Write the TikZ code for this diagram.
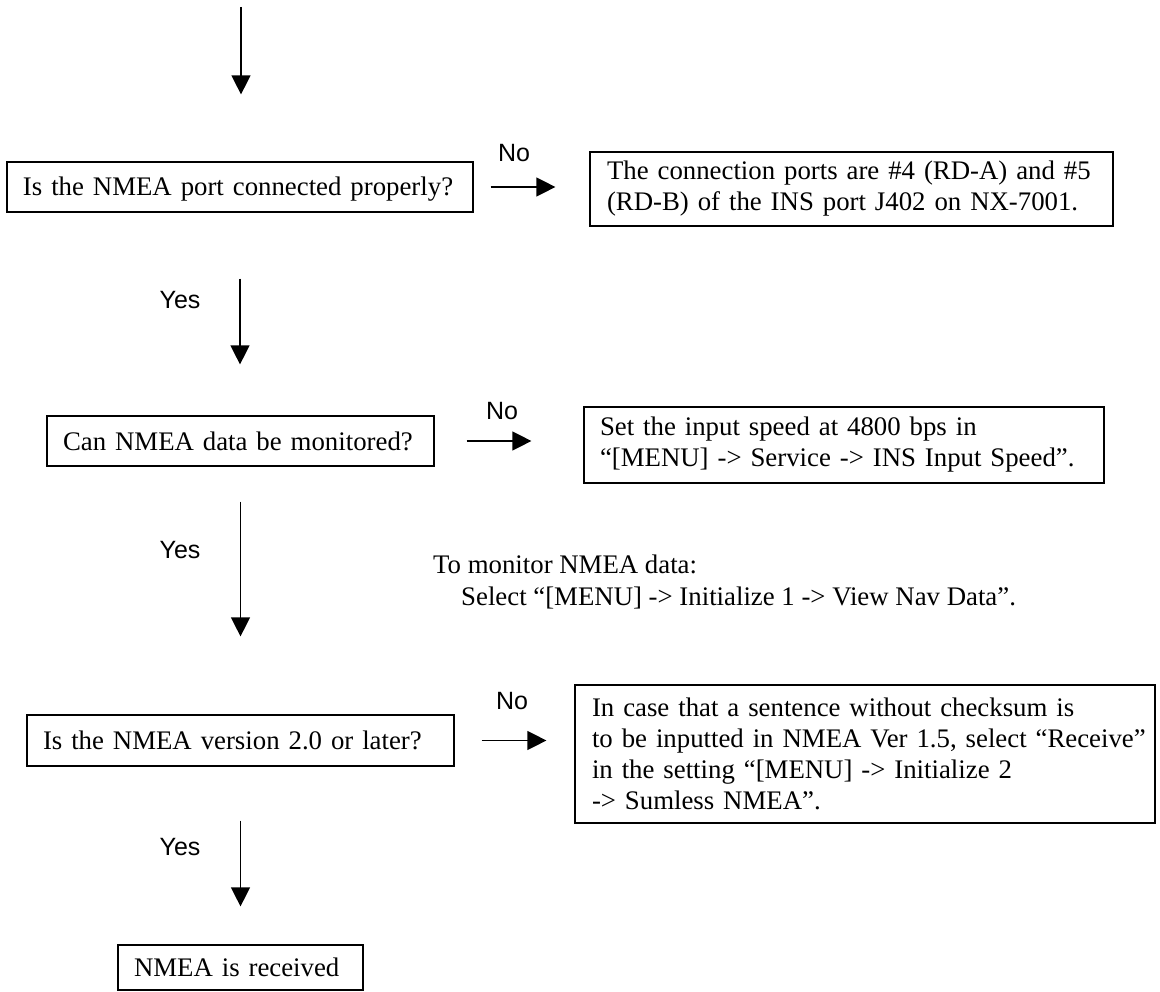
\documentclass[tikz,border=0pt]{standalone}
\usepackage{fontspec}
\setmainfont{Liberation Serif}
\newfontfamily\lblfont{Liberation Sans}
\usetikzlibrary{arrows.meta}
\begin{document}
\begin{tikzpicture}[x=1pt,y=-1pt,
  box/.style={draw, line width=1.2pt, inner xsep=16pt, inner ysep=0pt, align=left,
    font=\fontsize{26.8}{31}\selectfont},
  onebox/.style={box, text height=24pt, text depth=6pt, minimum height=50pt},
  arr/.style={line width=1.3pt, -{Triangle[length=19pt,width=19pt]}},
  lbl/.style={font=\lblfont\fontsize{25}{28}\selectfont, inner sep=0pt},
  note/.style={font=\fontsize{26.8}{32}\selectfont, inner sep=0pt, align=left}]
\useasboundingbox (0,0) rectangle (1160,992);

% decision and message boxes
\node[onebox, text width=434pt] (b1) at (240,187) {\mbox{Is the NMEA port connected properly?}};
\node[box, inner xsep=17pt, text width=489pt, minimum height=74pt] (b2) at (851.5,189)
  {\mbox{The connection ports are \#4 (RD-A) and \#5}\\\mbox{(RD-B) of the INS port J402 on NX-7001.}};
\node[onebox, text width=355pt] (b3) at (240.5,441) {\mbox{Can NMEA data be monitored?}};
\node[box, text width=488pt, minimum height=76pt] (b4) at (844,445)
  {\mbox{Set the input speed at 4800 bps in}\\\mbox{“[MENU] -> Service -> INS Input Speed”.}};
\node[onebox, text width=395pt, minimum height=51pt] (b5) at (240.5,740.5) {\mbox{Is the NMEA version 2.0 or later?}};
\node[box, inner xsep=17pt, text width=546pt, minimum height=138pt] (b6) at (865,754)
  {\mbox{In case that a sentence without checksum is}\\\mbox{to be inputted in NMEA Ver 1.5, select “Receive”}\\\mbox{in the setting “[MENU] -> Initialize 2}\\\mbox{-> Sumless NMEA”.}};
\node[onebox, text width=213pt, minimum height=45pt] (b7) at (240.5,967.5) {\mbox{NMEA is received}};

% note (base anchor sits on the last line)
\node[note, anchor=base west] (mon) at (433,605)
  {To monitor NMEA data:\\\hspace*{28pt}Select “[MENU] -> Initialize 1 -> View Nav Data”.};

% labels
\node[lbl] (no1) at (514,153) {No};
\node[lbl] (no2) at (502,411) {No};
\node[lbl] (no3) at (512,701) {No};
\node[lbl] (yes1) at (180,300) {Yes};
\node[lbl] (yes2) at (180,550) {Yes};
\node[lbl] (yes3) at (180,847) {Yes};

% connectors
\coordinate (start) at (241,7);
\draw[arr, shorten >=67pt] (start) -- (start |- b1.north);
\draw[arr, shorten <=66pt, shorten >=51pt] (b1.south) -- (b1.south |- b3.north);
\draw[arr, shorten <=35pt, shorten >=78pt] (b3.south) -- (b3.south |- b5.north);
\draw[arr, shorten <=54pt, shorten >=38pt] (b5.south) -- (b5.south |- b7.north);
\draw[arr, shorten <=17pt, shorten >=34pt] (b1.east) -- (b1.east -| b2.west);
\draw[arr, shorten <=32pt, shorten >=52pt] (b3.east) -- (b3.east -| b4.west);
\draw[arr, shorten <=27pt, shorten >=28pt] (b5.east) -- (b5.east -| b6.west);
\end{tikzpicture}
\end{document}
